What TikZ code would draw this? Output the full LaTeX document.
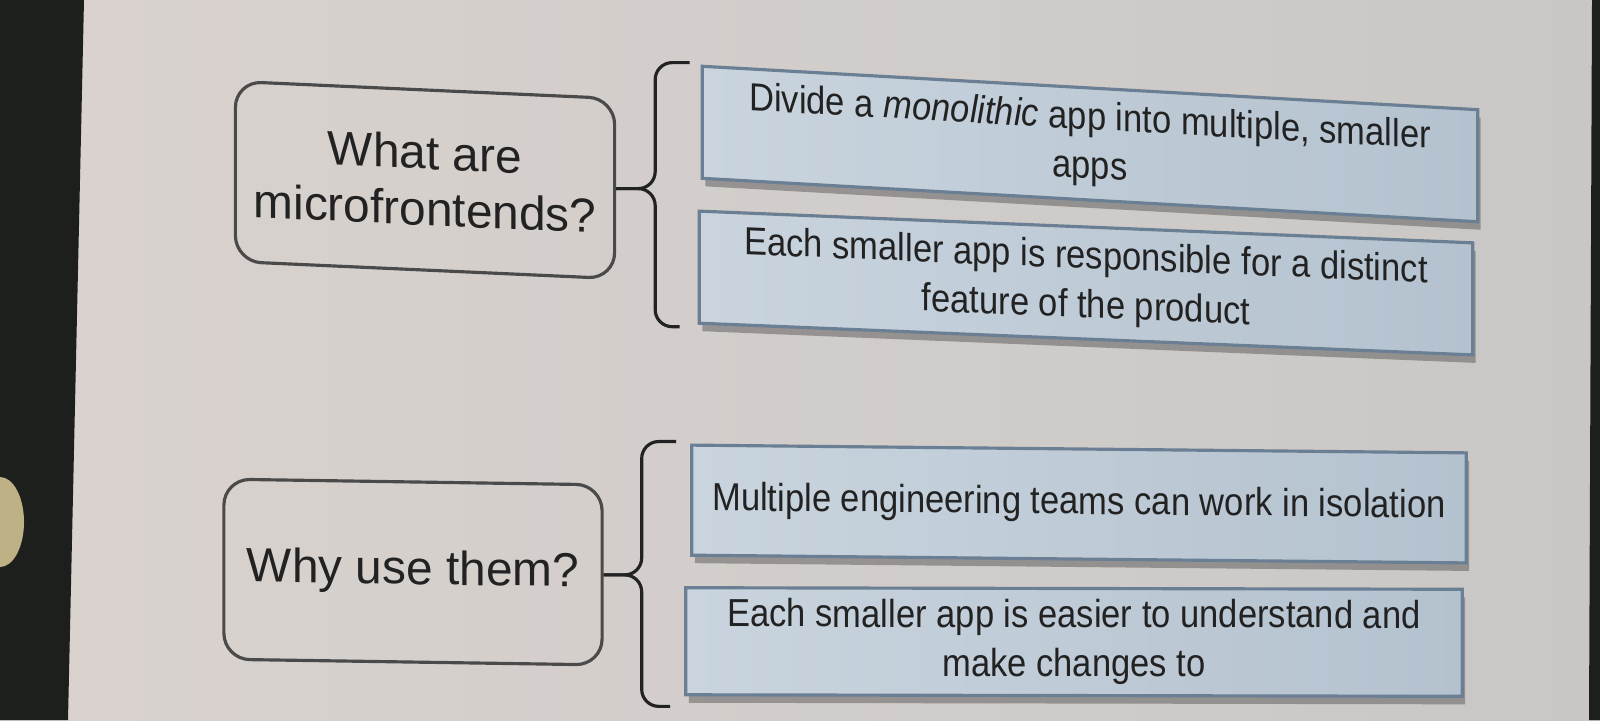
\documentclass[tikz,border=0pt]{standalone}
\usepackage{fontspec}
\setmainfont{Liberation Sans}
\newfontfamily\condfont[FakeStretch=0.885]{Liberation Sans}
\usepackage{tikz}
\usetikzlibrary{calc,shadows}

\definecolor{ink}{HTML}{222222}
\definecolor{qline}{HTML}{4A4A4A}
\definecolor{aline}{HTML}{6A7F93}
\definecolor{afillL}{HTML}{C9D4DE}
\definecolor{afillR}{HTML}{B4C2CF}
\definecolor{bezel}{HTML}{1D1F1C}
\definecolor{blob}{HTML}{BDB185}
\definecolor{wallL}{HTML}{DAD3CF}
\definecolor{wallM}{HTML}{DDD9D6}
\definecolor{wallR}{HTML}{C9C7C5}

\begin{document}
\begin{tikzpicture}[x=0.01cm, y=-0.01cm,
    question/.style={draw=qline, line width=0.9pt, rounded corners=0.26cm, align=center,
      inner sep=0pt, text=ink, font=\fontsize{13.6}{16}\selectfont},
    answer/.style={draw=aline, line width=0.9pt, left color=afillL, right color=afillR,
      align=center, inner sep=0pt, text=ink, font=\condfont\fontsize{11.1}{14}\selectfont,
      drop shadow={shadow xshift=0.03cm, shadow yshift=-0.08cm, opacity=0.45, fill=black!70}},
    bracket/.style={draw=ink, line width=0.9pt, rounded corners=0.17cm}]
    \shade[left color=wallL, middle color=wallM, right color=wallR] (0,0) rectangle (1600,720);
    \fill[bezel] (0,0) -- (84,0) -- (68,720) -- (0,720) -- cycle;
    \fill[bezel] (1592,0) -- (1600,0) -- (1600,720) -- (1589,720) -- cycle;
    \begin{scope}
        \clip (0,0) -- (84,0) -- (68,720) -- (0,720) -- cycle;
        \fill[blob] (0,522) ellipse [x radius=0.24cm, y radius=0.45cm];
    \end{scope}

    \node[question, minimum width=3.79cm, minimum height=1.8cm, yslant=-0.045] (q1) at (425,180) {What are\\microfrontends?};
    \node[question, minimum width=3.78cm, minimum height=1.8cm, yslant=-0.015] (q2) at (413,572) {Why use them?};

    \node[answer, minimum width=7.75cm, minimum height=1.12cm, yslant=-0.056] (a1) at (1090,144) {Divide a \textit{monolithic} app into multiple, smaller\\apps};
    \node[answer, minimum width=7.73cm, minimum height=1.12cm, yslant=-0.041] (a2) at (1086,283) {Each smaller app is responsible for a distinct\\feature of the product};
    \node[answer, minimum width=7.74cm, minimum height=1.1cm, yslant=-0.01] (a3) at (1079,504) {Multiple engineering teams can work in isolation};
    \node[answer, minimum width=7.76cm, minimum height=1.07cm, yslant=-0.002] (a4) at (1074,642) {Each smaller app is easier to understand and\\make changes to};

    \coordinate (m1) at ($(q1.east)+(39,0)$);
    \draw[bracket] ($(a1.north west)+(-11,-2)$) -| (m1) -- (q1.east);
    \draw[bracket] ($(a2.south west)+(-18,2)$) -| (m1) -- (q1.east);
    \coordinate (m2) at ($(q2.east)+(38,0)$);
    \draw[bracket] ($(a3.north west)+(-14,-2)$) -| (m2) -- (q2.east);
    \draw[bracket] ($(a4.south west)+(-14,10)$) -| (m2) -- (q2.east);
\end{tikzpicture}
\end{document}
